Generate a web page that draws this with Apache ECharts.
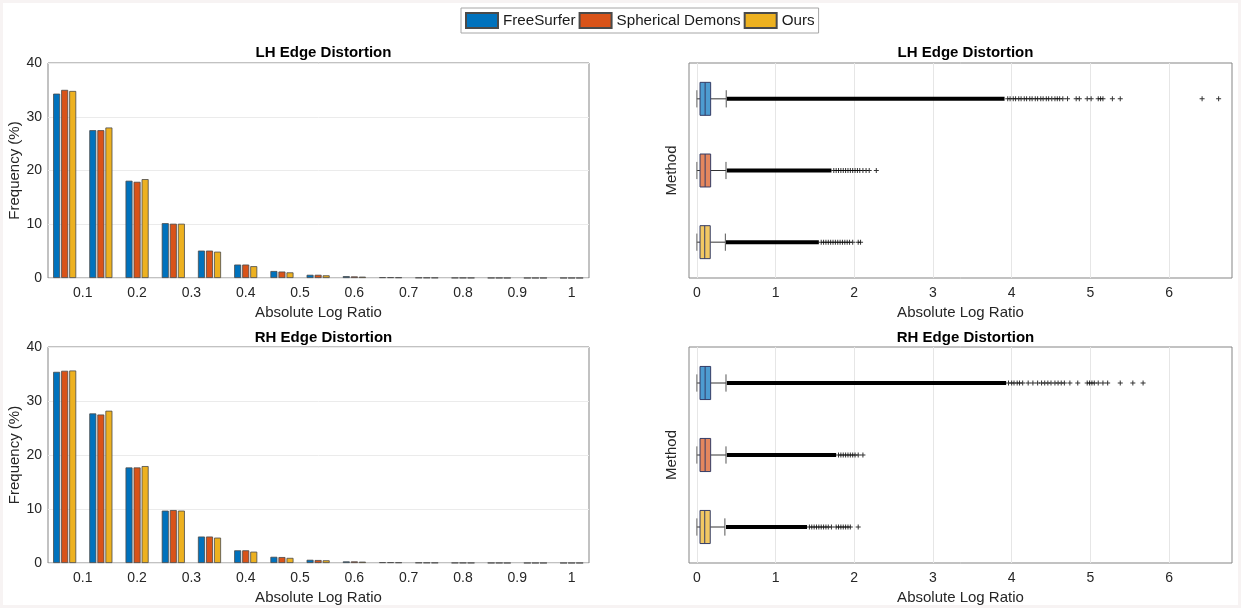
<!DOCTYPE html>
<html>
<head>
<meta charset="utf-8">
<script src="https://cdn.jsdelivr.net/npm/echarts@6/dist/echarts.min.js"></script>
<style>
  html, body { margin: 0; padding: 0; background: #ffffff; }
  #chart { width: 1241px; height: 608px; }
</style>
</head>
<body>
<div id="chart"></div>
<script>
// ---- data ----
const methods = ['FreeSurfer', 'Spherical Demons', 'Ours'];

// histogram bin centres (absolute log ratio) and tick labels
const binCenters = [0.0667, 0.1333, 0.2, 0.2667, 0.3333, 0.4, 0.4667, 0.5333, 0.6, 0.6667, 0.7333, 0.8, 0.8667, 0.9333, 1.0];
const histTicks = [0.1, 0.2, 0.3, 0.4, 0.5, 0.6, 0.7, 0.8, 0.9, 1];
const boxTicks = [0, 1, 2, 3, 4, 5, 6];

// frequency (%) per bin, left hemisphere
const lhFreeSurfer = [34.3, 27.5, 18.1, 10.2, 5.1, 2.5, 1.3, 0.6, 0.35, 0.15, 0.08, 0.04, 0.02, 0.01, 0.01];
const lhSpherical  = [35.0, 27.5, 17.9, 10.1, 5.1, 2.5, 1.2, 0.6, 0.3, 0.15, 0.07, 0.04, 0.02, 0.01, 0.01];
const lhOurs       = [34.8, 28.0, 18.4, 10.1, 4.9, 2.2, 1.05, 0.5, 0.25, 0.12, 0.06, 0.03, 0.01, 0.01, 0.01];

// frequency (%) per bin, right hemisphere
const rhFreeSurfer = [35.4, 27.7, 17.7, 9.7, 4.9, 2.35, 1.15, 0.6, 0.3, 0.15, 0.08, 0.04, 0.02, 0.01, 0.01];
const rhSpherical  = [35.6, 27.5, 17.7, 9.8, 4.9, 2.35, 1.1, 0.55, 0.3, 0.15, 0.07, 0.04, 0.02, 0.01, 0.01];
const rhOurs       = [35.65, 28.2, 17.95, 9.7, 4.7, 2.1, 0.95, 0.5, 0.25, 0.12, 0.06, 0.03, 0.01, 0.01, 0.01];

// box summaries: [lower whisker, Q1, median, Q3, upper whisker]
const lhBoxFreeSurfer = [0, 0.04, 0.105, 0.175, 0.373];
const lhBoxSpherical  = [0, 0.04, 0.105, 0.175, 0.37];
const lhBoxOurs       = [0, 0.04, 0.10, 0.17, 0.362];
const rhBoxFreeSurfer = [0, 0.04, 0.105, 0.175, 0.37];
const rhBoxSpherical  = [0, 0.04, 0.105, 0.175, 0.37];
const rhBoxOurs       = [0, 0.04, 0.10, 0.17, 0.356];

// span where outliers overlap into a solid run: [from, to]
const lhDenseFreeSurfer = [0.38, 3.91];
const lhDenseSpherical  = [0.38, 1.71];
const lhDenseOurs       = [0.37, 1.55];
const rhDenseFreeSurfer = [0.38, 3.93];
const rhDenseSpherical  = [0.38, 1.77];
const rhDenseOurs       = [0.37, 1.40];

// individually visible outliers beyond the solid run
const lhOutFreeSurfer = [3.95, 3.98, 4.02, 4.05, 4.09, 4.12, 4.16, 4.19, 4.23, 4.26, 4.30, 4.33, 4.37, 4.40, 4.44, 4.47, 4.51, 4.55, 4.58, 4.61, 4.65, 4.71, 4.82, 4.86, 4.96, 5.01, 5.10, 5.13, 5.16, 5.28, 5.38, 6.42, 6.63];
const lhOutSpherical  = [1.74, 1.77, 1.80, 1.83, 1.86, 1.89, 1.92, 1.95, 1.98, 2.01, 2.04, 2.07, 2.11, 2.15, 2.19, 2.28];
const lhOutOurs       = [1.58, 1.61, 1.64, 1.67, 1.70, 1.73, 1.76, 1.79, 1.82, 1.85, 1.88, 1.91, 1.94, 1.98, 2.05, 2.08];
const rhOutFreeSurfer = [3.96, 4.00, 4.03, 4.07, 4.10, 4.14, 4.21, 4.27, 4.33, 4.38, 4.42, 4.46, 4.50, 4.55, 4.59, 4.63, 4.67, 4.74, 4.84, 4.96, 4.99, 5.02, 5.05, 5.10, 5.16, 5.22, 5.38, 5.54, 5.67];
const rhOutSpherical  = [1.80, 1.83, 1.86, 1.89, 1.92, 1.95, 1.98, 2.01, 2.05, 2.11];
const rhOutOurs       = [1.43, 1.46, 1.49, 1.52, 1.55, 1.58, 1.61, 1.64, 1.67, 1.71, 1.77, 1.80, 1.83, 1.86, 1.89, 1.92, 1.95, 2.05];

// ---- styling ----
const FONT = '"Liberation Sans", Arial, Helvetica, sans-serif';
const TXT = '#262626';
const barColors = ['#0072BD', '#D95319', '#EDB120'];
const boxFill = ['#4D9CD1', '#E5875E', '#F2C863'];
const boxEdge = '#353d66';

const grids = [
  { left: 48,  top: 63,  width: 541, height: 215 },
  { left: 48,  top: 347, width: 541, height: 216 },
  { left: 689, top: 63,  width: 543, height: 215 },
  { left: 689, top: 347, width: 543, height: 216 }
].map(g => Object.assign({ show: true, borderColor: '#858585', borderWidth: 1, backgroundColor: 'transparent', containLabel: false }, g));

function histX(gi) {
  return {
    type: 'value', gridIndex: gi, min: 0.036, max: 1.032,
    splitLine: { show: false }, axisLine: { show: false },
    axisTick: { show: false, customValues: histTicks },
    axisLabel: { customValues: histTicks, fontSize: 14, color: TXT, fontFamily: FONT, margin: 8 },
    name: 'Absolute Log Ratio', nameLocation: 'middle', nameGap: 27,
    nameTextStyle: { fontSize: 15, color: TXT, fontFamily: FONT }
  };
}
function histY(gi) {
  return {
    type: 'value', gridIndex: gi, min: 0, max: 40, interval: 10,
    splitLine: { show: true, lineStyle: { color: '#ebebeb', width: 1 } },
    axisLine: { show: false }, axisTick: { show: false },
    axisLabel: { fontSize: 14, color: TXT, fontFamily: FONT, margin: 6 },
    name: 'Frequency (%)', nameLocation: 'middle', nameGap: 24,
    nameTextStyle: { fontSize: 15, color: TXT, fontFamily: FONT }
  };
}
function boxX(gi) {
  return {
    type: 'value', gridIndex: gi, min: -0.1, max: 6.8,
    splitLine: { show: true, lineStyle: { color: '#e6e6e6', width: 1 } },
    axisLine: { show: false },
    axisTick: { show: false, customValues: boxTicks },
    axisLabel: { customValues: boxTicks, fontSize: 14, color: TXT, fontFamily: FONT, margin: 8 },
    name: 'Absolute Log Ratio', nameLocation: 'middle', nameGap: 27,
    nameTextStyle: { fontSize: 15, color: TXT, fontFamily: FONT }
  };
}
function boxY(gi) {
  return {
    type: 'category', gridIndex: gi, data: methods, inverse: true,
    axisLine: { show: false }, axisTick: { show: false }, axisLabel: { show: false },
    splitLine: { show: false },
    name: 'Method', nameLocation: 'middle', nameGap: 10,
    nameTextStyle: { fontSize: 15, color: TXT, fontFamily: FONT }
  };
}

function barSeries(axisIdx, values, mi) {
  return {
    name: methods[mi], type: 'bar', xAxisIndex: axisIdx, yAxisIndex: axisIdx,
    data: binCenters.map((c, i) => [c, values[i]]),
    barWidth: 7, barGap: '15%',
    itemStyle: { color: barColors[mi], borderColor: '#4a4a4a', borderWidth: 0.8 },
    emphasis: { disabled: true }
  };
}

function renderBox(params, api) {
  const cat = api.value(0);
  const band = api.size([0, 1])[1];
  const hb = band * 0.23, hc = band * 0.12;
  const pts = [1, 2, 3, 4, 5].map(d => api.coord([api.value(d), cat]));
  const y = pts[0][1];
  const ls = { stroke: '#333333', lineWidth: 1 };
  return {
    type: 'group',
    children: [
      { type: 'line', shape: { x1: pts[0][0], y1: y, x2: pts[1][0], y2: y }, style: ls },
      { type: 'line', shape: { x1: pts[3][0], y1: y, x2: pts[4][0], y2: y }, style: ls },
      { type: 'line', shape: { x1: pts[0][0], y1: y - hc, x2: pts[0][0], y2: y + hc }, style: { stroke: '#666', lineWidth: 1 } },
      { type: 'line', shape: { x1: pts[4][0], y1: y - hc, x2: pts[4][0], y2: y + hc }, style: { stroke: '#555', lineWidth: 1 } },
      { type: 'rect', shape: { x: pts[1][0], y: y - hb, width: pts[3][0] - pts[1][0], height: hb * 2 },
        style: { fill: boxFill[cat], stroke: boxEdge, lineWidth: 1 } },
      { type: 'line', shape: { x1: pts[2][0], y1: y - hb, x2: pts[2][0], y2: y + hb }, style: { stroke: boxEdge, lineWidth: 1 } }
    ]
  };
}

function renderDense(params, api) {
  const cat = api.value(0);
  const a = api.coord([api.value(1), cat]);
  const b = api.coord([api.value(2), cat]);
  return { type: 'rect', shape: { x: a[0], y: a[1] - 2, width: b[0] - a[0], height: 4 }, style: { fill: '#000' } };
}

function boxSeries(axisIdx, boxes, dense, outs, tag) {
  return [
    {
      name: tag + ' dense', type: 'custom', xAxisIndex: axisIdx, yAxisIndex: axisIdx,
      renderItem: renderDense, dimensions: ['m', 'from', 'to'],
      encode: { x: [1, 2], y: 0 },
      data: dense.map((d, i) => [i, d[0], d[1]]), silent: true, z: 2
    },
    {
      name: tag + ' outliers', type: 'scatter', xAxisIndex: axisIdx, yAxisIndex: axisIdx,
      symbol: 'path://M4,0H6V4H10V6H6V10H4V6H0V4H4Z', symbolSize: 5,
      itemStyle: { color: '#000' }, silent: true, z: 2,
      data: outs.flatMap((list, i) => list.map(v => [v, i]))
    },
    {
      name: tag + ' box', type: 'custom', xAxisIndex: axisIdx, yAxisIndex: axisIdx,
      renderItem: renderBox, dimensions: ['m', 'lo', 'q1', 'med', 'q3', 'hi'],
      encode: { x: [1, 2, 3, 4, 5], y: 0 },
      data: boxes.map((b, i) => [i].concat(b)), silent: true, z: 3
    }
  ];
}

function titleAt(text, cx, top) {
  return { text, left: cx, top, textAlign: 'center',
    textStyle: { fontSize: 15, fontWeight: 'bold', color: '#000', fontFamily: FONT } };
}

const option = {
  animation: false,
  backgroundColor: '#ffffff',
  textStyle: { fontFamily: FONT },
  title: [
    titleAt('LH Edge Distortion', 318.5, 40),
    titleAt('RH Edge Distortion', 318.5, 325),
    titleAt('LH Edge Distortion', 960.5, 40),
    titleAt('RH Edge Distortion', 960.5, 325)
  ],
  legend: {
    data: methods, left: 461, top: 8, orient: 'horizontal',
    itemWidth: 32, itemHeight: 15, itemGap: 3, padding: [4, 4, 4, 4],
    borderColor: '#a6a6a6', borderWidth: 1, backgroundColor: '#fff',
    selectedMode: false, icon: 'rect',
    textStyle: { fontSize: 15.2, color: '#1a1a1a', fontFamily: FONT }
  },
  grid: grids,
  xAxis: [histX(0), histX(1), boxX(2), boxX(3)],
  yAxis: [histY(0), histY(1), boxY(2), boxY(3)],
  series: [
    barSeries(0, lhFreeSurfer, 0), barSeries(0, lhSpherical, 1), barSeries(0, lhOurs, 2),
    barSeries(1, rhFreeSurfer, 0), barSeries(1, rhSpherical, 1), barSeries(1, rhOurs, 2),
    ...boxSeries(2, [lhBoxFreeSurfer, lhBoxSpherical, lhBoxOurs],
      [lhDenseFreeSurfer, lhDenseSpherical, lhDenseOurs],
      [lhOutFreeSurfer, lhOutSpherical, lhOutOurs], 'LH'),
    ...boxSeries(3, [rhBoxFreeSurfer, rhBoxSpherical, rhBoxOurs],
      [rhDenseFreeSurfer, rhDenseSpherical, rhDenseOurs],
      [rhOutFreeSurfer, rhOutSpherical, rhOutOurs], 'RH')
  ],
  graphic: [{
    type: 'rect', z: -10, silent: true,
    shape: { x: 0, y: 0, width: 1241, height: 608 },
    style: { fill: 'none', stroke: '#f7f3f3', lineWidth: 6 }
  }]
};

const chart = echarts.init(document.getElementById('chart'), null, { renderer: 'canvas' });
chart.setOption(option);
</script>
</body>
</html>
